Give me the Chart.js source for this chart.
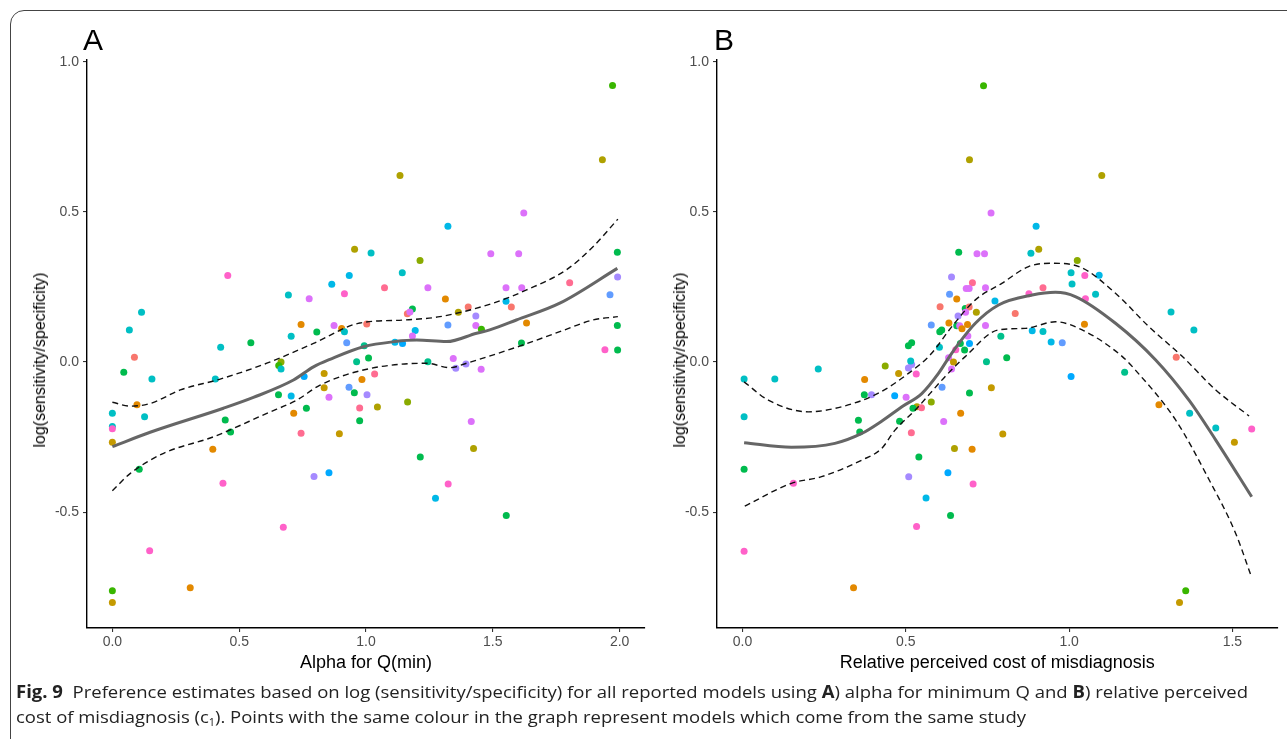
<!DOCTYPE html>
<html>
<head>
<meta charset="utf-8">
<title>Fig. 9</title>
<script src="https://cdn.jsdelivr.net/npm/chart.js@4.4.0/dist/chart.umd.min.js"></script>
<style>
html, body { margin: 0; padding: 0; background: #fff; }
body { width: 1287px; height: 739px; position: relative; overflow: hidden; font-family: "Liberation Sans", Arial, sans-serif; }
.frame { position: absolute; left: 10px; top: 10px; width: 1320px; height: 760px; border: 1.5px solid #444; border-radius: 14px; box-sizing: border-box; }
canvas { position: absolute; top: 0; }
#chartA { left: 0; }
#chartB { left: 650px; }
.panel { position: absolute; top: 25px; font-size: 30px; line-height: 30px; color: #000; }
.ytitle { position: absolute; top: 360px; font-size: 16px; color: #000; white-space: nowrap; transform: translate(-50%, -50%) rotate(-90deg); }
.caption { position: absolute; left: 16px; top: 679px; font-family: "Open Sans", "Noto Sans", sans-serif; font-size: 17px; line-height: 25px; color: #222; }
.caption div { white-space: nowrap; transform-origin: left center; display: block; width: max-content; }
.caption sub { font-size: 10px; vertical-align: -3px; }
</style>
</head>
<body>
<div class="frame"></div>
<canvas id="chartA" width="660" height="690"></canvas>
<canvas id="chartB" width="637" height="690"></canvas>
<div class="panel" style="left:83px">A</div>
<div class="panel" style="left:714px">B</div>
<div class="ytitle" style="left:40px">log(sensitivity/specificity)</div>
<div class="ytitle" style="left:680px">log(sensitivity/specificity)</div>
<div class="caption">
  <div id="cap1"><b>Fig. 9</b>&nbsp; Preference estimates based on log (sensitivity/specificity) for all reported models using <b>A</b>) alpha for minimum Q and <b>B</b>) relative perceived</div>
  <div id="cap2">cost of misdiagnosis (c<sub>1</sub>). Points with the same colour in the graph represent models which come from the same study</div>
</div>
<script>
// colour of each study (ggplot hue style)
const studyColours = ['#F8766D', '#E38900', '#C49A00', '#AFA100', '#8AAB00', '#39B600', '#00BB4E', '#00C08B',
    '#00BFC4', '#00B8E7', '#00A9FF', '#619CFF', '#A58AFF', '#DC71FA', '#FF61C9', '#FF6C91'];

const yTicks = [-0.5, 0, 0.5, 1.0];
const alphaTicks = [0, 0.5, 1.0, 1.5, 2.0];
const costTicks = [0, 0.5, 1.0, 1.5];

// Panel A: alpha for Q(min)
const alphaX = [0.955, 1.02, 0.455, 0.694, 0.865, 0.934, 0.776, 0.915, 0.115, 0.067, 0.744, 0.874, 0.904, 1.003, 0.806,
    0.087, 0.045, 0.156, 0.097, 0.0, 0.127, 0.0, 0.0, 0.0, 0.106, 0.147, 0.0, 0.0, 0.307, 0.436,
    0.396, 0.427, 0.406, 0.546, 0.445, 0.466, 0.665, 0.656, 0.665, 0.705, 0.915, 0.924, 0.993, 1.01, 0.963,
    0.835, 0.984, 0.756, 0.933, 0.954, 1.004, 0.835, 0.854, 0.705, 0.655, 0.715, 0.765, 0.975, 0.975, 0.744,
    0.895, 0.795, 0.854, 0.674, 1.972, 1.932, 1.134, 1.323, 1.622, 1.213, 1.492, 1.602, 1.991, 1.143, 1.073,
    1.244, 1.552, 1.614, 1.803, 1.992, 1.962, 1.313, 1.552, 1.573, 1.403, 1.364, 1.183, 1.163, 1.173, 1.433,
    1.633, 1.323, 1.433, 1.991, 1.455, 1.194, 1.183, 1.114, 1.144, 1.613, 1.942, 1.992, 1.244, 1.344, 1.354,
    1.394, 1.454, 1.034, 1.045, 1.164, 1.415, 1.424, 1.214, 1.324, 1.274, 1.553];
const alphaY = [0.376, 0.363, 0.288, 0.223, 0.259, 0.288, 0.211, 0.227, 0.166, 0.107, 0.125, 0.122, 0.112, 0.127, 0.100,
    0.016, -0.034, -0.057, -0.142, -0.171, -0.182, -0.215, -0.222, -0.267, -0.357, -0.629, -0.762, -0.801, -0.752, -0.404,
    -0.291, 0.049, -0.057, 0.064, -0.193, -0.233, 0.0, -0.012, -0.023, 0.086, 0.101, 0.064, 0.054, 0.013, 0.001,
    -0.038, -0.058, -0.048, -0.084, -0.102, -0.109, -0.086, -0.117, -0.113, -0.109, -0.171, -0.154, -0.153, -0.196, -0.237,
    -0.239, -0.381, -0.369, -0.550, 0.921, 0.674, 0.621, 0.452, 0.496, 0.338, 0.361, 0.361, 0.366, 0.297, 0.247,
    0.247, 0.247, 0.247, 0.264, 0.283, 0.224, 0.210, 0.202, 0.183, 0.183, 0.166, 0.177, 0.161, 0.167, 0.153,
    0.130, 0.123, 0.122, 0.122, 0.109, 0.105, 0.087, 0.066, 0.062, 0.063, 0.041, 0.040, 0.001, 0.012, -0.021,
    -0.007, -0.024, -0.040, -0.150, -0.133, -0.198, -0.288, -0.316, -0.406, -0.454, -0.511];
const alphaStudy = [3, 8, 14, 8, 9, 9, 13, 14, 8, 8, 1, 13, 1, 0, 6,
    0, 6, 8, 1, 8, 8, 8, 14, 2, 6, 14, 5, 2, 1, 14,
    1, 8, 8, 6, 6, 6, 4, 5, 8, 8, 8, 11, 7, 6, 7,
    2, 1, 10, 11, 6, 12, 2, 13, 9, 6, 1, 6, 15, 6, 15,
    2, 12, 10, 14, 5, 3, 3, 9, 13, 4, 13, 13, 6, 8, 15,
    13, 13, 13, 15, 12, 11, 1, 9, 0, 0, 3, 6, 0, 13, 12,
    1, 11, 13, 6, 5, 9, 13, 9, 10, 6, 14, 6, 7, 13, 12,
    12, 13, 15, 3, 4, 13, 3, 6, 14, 9, 6];

// smooth fit and confidence band, panel A
const alphaFitX = [0, 0.149, 0.438, 0.556, 0.714, 0.793, 0.858, 0.99, 1.114, 1.2, 1.318, 1.436, 1.488, 1.593, 1.764, 1.991];
const alphaFitY = [-0.282, -0.234, -0.154, -0.118, -0.06, -0.016, 0.009, 0.051, 0.068, 0.073, 0.068, 0.096, 0.107, 0.14, 0.196, 0.312];
const alphaUpX = [0, 0.071, 0.15, 0.268, 0.425, 0.609, 0.793, 0.976, 1.15, 1.291, 1.501, 1.633, 1.79, 1.895, 1.993];
const alphaUpY = [-0.134, -0.147, -0.138, -0.093, -0.057, -0.004, 0.062, 0.13, 0.14, 0.151, 0.196, 0.24, 0.307, 0.384, 0.476];
const alphaLoX = [0, 0.071, 0.202, 0.399, 0.609, 0.727, 0.819, 1.003, 1.239, 1.331, 1.396, 1.606, 1.764, 1.895, 1.993];
const alphaLoY = [-0.429, -0.371, -0.304, -0.249, -0.171, -0.127, -0.077, -0.024, -0.004, -0.019, -0.004, 0.053, 0.101, 0.14, 0.151];

// Panel B: relative perceived cost of misdiagnosis
const costX = [0.005, 0.099, 0.232, 0.005, 0.005, 0.156, 0.374, 0.395, 0.373, 0.355, 0.359, 0.437, 0.478, 0.466, 0.481,
    0.501, 0.508, 0.518, 0.515, 0.508, 0.518, 0.532, 0.534, 0.522, 0.548, 0.517, 0.54, 0.509, 0.562, 0.533,
    0.578, 0.578, 0.005, 0.34, 0.738, 0.695, 1.1, 0.761, 0.899, 0.662, 0.718, 0.741, 0.883, 0.907, 1.025,
    1.006, 1.048, 1.092, 1.009, 1.312, 1.382, 1.05, 1.081, 1.047, 0.835, 0.92, 0.877, 0.773, 0.791, 0.887,
    0.92, 0.945, 0.979, 0.809, 0.64, 0.704, 0.685, 0.694, 0.744, 0.634, 0.656, 0.605, 0.682, 0.694, 0.716,
    0.66, 0.683, 0.632, 0.656, 0.665, 0.689, 0.672, 0.744, 0.604, 0.61, 0.69, 0.667, 0.695, 0.603, 0.653,
    0.68, 0.631, 0.646, 0.64, 0.747, 0.611, 0.695, 0.762, 1.006, 1.17, 1.328, 1.275, 1.369, 1.449, 1.506,
    1.559, 1.357, 1.338, 0.616, 0.668, 0.797, 0.649, 0.703, 0.629, 0.706, 0.637];
const costY = [-0.057, -0.057, -0.023, -0.182, -0.357, -0.404, -0.058, -0.109, -0.109, -0.194, -0.233, -0.013, -0.038, -0.112, -0.197,
    -0.117, -0.020, -0.008, 0.003, 0.054, 0.064, -0.040, -0.149, -0.154, -0.152, -0.236, -0.316, -0.382, -0.453, -0.548,
    -0.133, 0.123, -0.630, -0.752, 0.920, 0.674, 0.621, 0.496, 0.452, 0.366, 0.361, 0.361, 0.362, 0.376, 0.338,
    0.297, 0.288, 0.289, 0.260, 0.167, 0.107, 0.211, 0.226, 0.126, 0.162, 0.247, 0.227, 0.203, 0.086, 0.104,
    0.102, 0.067, 0.064, 0.014, 0.283, 0.264, 0.245, 0.245, 0.247, 0.226, 0.210, 0.184, 0.178, 0.183, 0.166,
    0.153, 0.166, 0.130, 0.121, 0.121, 0.125, 0.111, 0.122, 0.101, 0.107, 0.087, 0.062, 0.062, 0.049, 0.041,
    0.040, 0.014, 0.0, -0.023, 0.001, -0.084, -0.103, -0.086, -0.048, -0.034, 0.016, -0.142, -0.171, -0.220, -0.267,
    -0.223, -0.762, -0.801, -0.198, -0.171, -0.240, -0.288, -0.291, -0.369, -0.406, -0.511];
const costStudy = [8, 8, 8, 8, 6, 14, 1, 12, 6, 6, 6, 4, 2, 10, 6,
    13, 12, 12, 8, 6, 6, 14, 3, 6, 15, 15, 6, 12, 9, 14,
    4, 11, 14, 1, 5, 3, 3, 13, 9, 6, 13, 13, 8, 3, 4,
    8, 14, 9, 8, 8, 8, 14, 8, 1, 0, 15, 14, 9, 7, 9,
    8, 9, 11, 6, 12, 15, 13, 13, 13, 11, 1, 0, 6, 0, 3,
    12, 13, 1, 6, 13, 1, 1, 13, 6, 6, 13, 6, 10, 8, 14,
    6, 13, 2, 13, 7, 11, 6, 2, 10, 7, 0, 1, 8, 8, 2,
    14, 5, 2, 13, 1, 2, 3, 1, 10, 14, 6];

// smooth fit and confidence band, panel B
const costFitX = [0.005, 0.15, 0.283, 0.365, 0.426, 0.488, 0.549, 0.6, 0.641, 0.713, 0.784, 0.887, 0.958, 1.019, 1.142, 1.265, 1.367, 1.449, 1.559];
const costFitY = [-0.269, -0.284, -0.271, -0.238, -0.197, -0.149, -0.105, -0.038, 0.03, 0.129, 0.19, 0.223, 0.232, 0.218, 0.129, 0.007, -0.127, -0.26, -0.449];
const costUpX = [0.005, 0.079, 0.202, 0.304, 0.416, 0.508, 0.575, 0.641, 0.713, 0.794, 0.876, 0.948, 1.03, 1.142, 1.244, 1.347, 1.449, 1.551];
const costUpY = [-0.066, -0.127, -0.166, -0.149, -0.104, -0.038, 0.024, 0.118, 0.207, 0.262, 0.318, 0.329, 0.318, 0.229, 0.118, 0.018, -0.093, -0.18];
const costLoX = [0.007, 0.15, 0.242, 0.365, 0.426, 0.467, 0.529, 0.62, 0.682, 0.784, 0.866, 0.958, 1.04, 1.163, 1.203, 1.326, 1.429, 1.51, 1.559];
const costLoY = [-0.48, -0.404, -0.382, -0.327, -0.288, -0.227, -0.16, -0.049, 0.018, 0.107, 0.112, 0.134, 0.107, 0.018, -0.027, -0.193, -0.393, -0.571, -0.718];

const fontFamily = '"Liberation Sans", Arial, sans-serif';

function zipXY(xs, ys) {
    return xs.map((x, i) => ({ x: x, y: ys[i] }));
}

function lineSet(xs, ys, dashed) {
    return {
        type: 'line',
        data: zipXY(xs, ys),
        borderColor: dashed ? '#111' : '#666',
        borderWidth: dashed ? 1.4 : 3,
        borderDash: dashed ? [6, 4] : [],
        pointRadius: 0,
        fill: false,
        cubicInterpolationMode: 'monotone'
    };
}

function axisStyle() {
    return {
        grid: { display: true, drawOnChartArea: false, drawTicks: true, tickLength: 4, color: '#333', lineWidth: 1.1 },
        border: { display: true, color: '#000', width: 1.4 }
    };
}

function makePanel(id, xs, ys, study, fit, up, lo, xTicks, xMin, xMax, yWidth, rightPad, xTitle) {
    const ctx = document.getElementById(id);
    return new Chart(ctx, {
        type: 'scatter',
        data: {
            datasets: [
                lineSet(fit[0], fit[1], false),
                lineSet(up[0], up[1], true),
                lineSet(lo[0], lo[1], true),
                {
                    data: zipXY(xs, ys),
                    pointRadius: 3.5,
                    pointBorderWidth: 0,
                    pointBackgroundColor: study.map(s => studyColours[s]),
                    showLine: false
                }
            ]
        },
        options: {
            responsive: false,
            animation: false,
            layout: { padding: { left: 0, right: rightPad, top: 60, bottom: 0 } },
            plugins: { legend: { display: false }, tooltip: { enabled: false } },
            scales: {
                x: Object.assign(axisStyle(), {
                    type: 'linear',
                    min: xMin,
                    max: xMax,
                    afterBuildTicks: s => { s.ticks = xTicks.map(v => ({ value: v })); },
                    afterFit: s => { s.height = 62; },
                    ticks: { color: '#4D4D4D', font: { family: fontFamily, size: 14 }, padding: 2, maxRotation: 0, autoSkip: false,
                        callback: v => v.toFixed(1) },
                    title: { display: true, text: xTitle, color: '#000', font: { family: fontFamily, size: 18 }, padding: { top: 0, bottom: 16 } }
                }),
                y: Object.assign(axisStyle(), {
                    type: 'linear',
                    min: -0.886,
                    max: 1.006,
                    afterBuildTicks: s => { s.ticks = yTicks.map(v => ({ value: v })); },
                    afterFit: s => { s.width = yWidth; },
                    ticks: { color: '#4D4D4D', font: { family: fontFamily, size: 14 }, padding: 4,
                        callback: v => v.toFixed(1) }
                })
            }
        }
    });
}

makePanel('chartA', alphaX, alphaY, alphaStudy,
    [alphaFitX, alphaFitY], [alphaUpX, alphaUpY], [alphaLoX, alphaLoY],
    alphaTicks, -0.1, 2.1, 87, 15, 'Alpha for Q(min)');

makePanel('chartB', costX, costY, costStudy,
    [costFitX, costFitY], [costUpX, costUpY], [costLoX, costLoY],
    costTicks, -0.078, 1.638, 67, 9.5, 'Relative perceived cost of misdiagnosis');

// squeeze caption lines to the width they take in the figure
function fitLine(id, target) {
    const el = document.getElementById(id);
    const w = el.getBoundingClientRect().width;
    if (w > 0) el.style.transform = 'scaleX(' + (target / w) + ')';
}
fitLine('cap1', 1232);
fitLine('cap2', 1010);
</script>
</body>
</html>
